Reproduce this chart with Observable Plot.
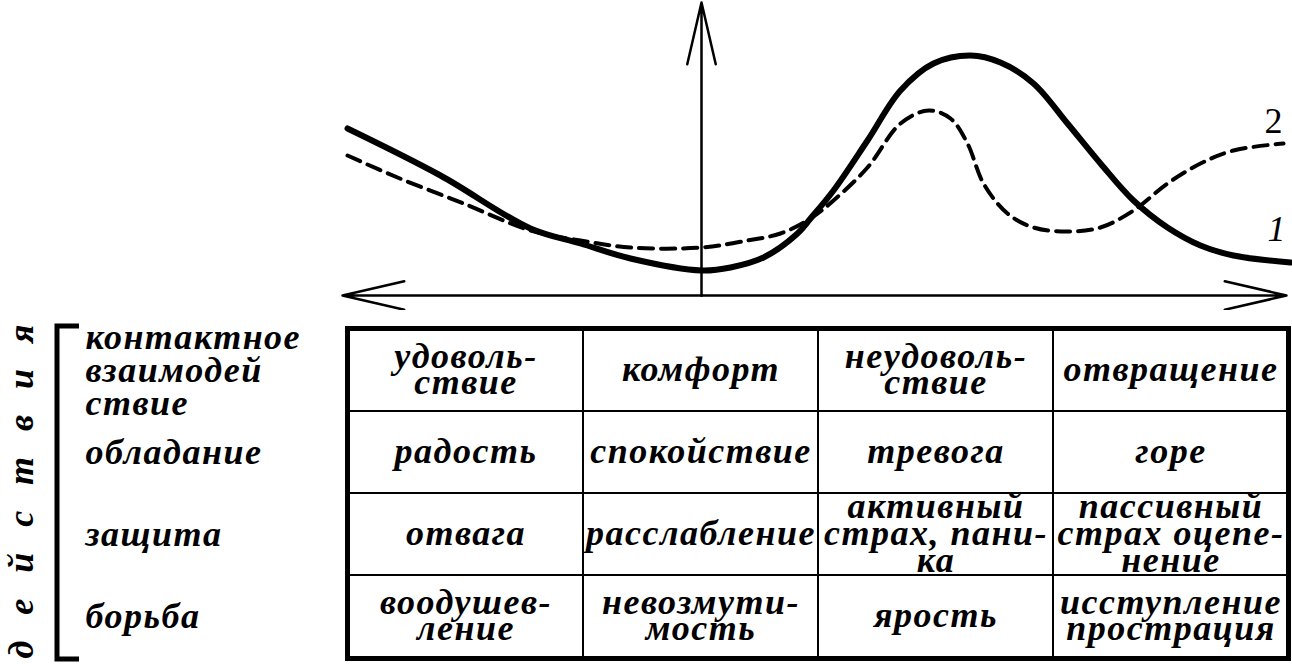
<!DOCTYPE html>
<html>
<head>
<meta charset="utf-8">
<script src="https://cdn.jsdelivr.net/npm/d3@7"></script>
<script src="https://cdn.jsdelivr.net/npm/@observablehq/plot@0.6"></script>
<style>
  body { margin: 0; background: #fff; }
  #chart { width: 1292px; }
  #chart svg { display: block; background: #fff; }
</style>
</head>
<body>
<div id="chart"></div>
<script>
// ---- Curve data (horizontal: emotion axis, origin at the vertical arrow; vertical: intensity)
const curve1X = [-3.54, -2.61, -1.71, -1.21, -0.71, 0, 0.29, 0.62, 0.96, 1.09, 1.32, 1.66, 1.99, 2.32, 2.69, 2.99, 3.32, 3.66, 3.99, 4.32, 4.66, 4.99, 5.32, 5.89];
const curve1Y = [1.67, 1.20, 0.67, 0.52, 0.37, 0.25, 0.28, 0.38, 0.62, 0.77, 1.05, 1.55, 2.05, 2.32, 2.40, 2.33, 2.12, 1.72, 1.32, 0.95, 0.68, 0.50, 0.40, 0.33];
const curve2X = [-3.54, -3.04, -2.38, -1.71, -1.21, -0.71, 0, 0.46, 0.79, 1.09, 1.32, 1.66, 1.99, 2.27, 2.49, 2.66, 2.82, 3.06, 3.32, 3.66, 3.99, 4.32, 4.66, 4.99, 5.32, 5.82];
const curve2Y = [1.40, 1.18, 0.92, 0.65, 0.55, 0.48, 0.48, 0.55, 0.62, 0.77, 0.95, 1.28, 1.72, 1.85, 1.77, 1.52, 1.12, 0.82, 0.68, 0.64, 0.68, 0.85, 1.12, 1.32, 1.45, 1.52];
const curveNames = ["1", "2"];

// axis extents (same units as the curves)
const axisLeft = -3.59, axisRight = 5.85, axisTop = 2.93;

// ---- Table data
const columns = ["I", "II", "III", "IV"];
const rowLabels = ["контактное\nвзаимодей\nствие", "обладание", "защита", "борьба"];
const contactRow = ["удоволь-\nствие", "комфорт", "неудоволь-\nствие", "отвращение"];
const possessionRow = ["радость", "спокойствие", "тревога", "горе"];
const defenseRow = ["отвага", "расслабление", "активный\nстрах, пани-\nка", "пассивный\nстрах оцепе-\nнение"];
const fightRow = ["воодушев-\nление", "невозмути-\nмость", "ярость", "исступление\nпрострация"];
const sideTitle = "действия";

// ---- build tables for the library
const curve1 = curve1X.map((x, i) => ({series: curveNames[0], x, y: curve1Y[i]}));
const curve2 = curve2X.map((x, i) => ({series: curveNames[1], x, y: curve2Y[i]}));
const axes = [
  {x1: 0, y1: 0, x2: axisLeft, y2: 0},
  {x1: 0, y1: 0, x2: axisRight, y2: 0},
  {x1: 0, y1: 0, x2: 0, y2: axisTop}
];
const cellRows = [contactRow, possessionRow, defenseRow, fightRow];
const cells = rowLabels.flatMap((row, i) => columns.map((col, j) => ({row, col, text: cellRows[i][j]})));

const serif = "'Liberation Serif', 'Times New Roman', serif";

const graphPlot = Plot.plot({
  width: 1292,
  height: 310,
  marginLeft: 342,
  marginRight: 6,
  marginTop: 0,
  marginBottom: 15,
  x: {domain: [axisLeft, axisRight], axis: null},
  y: {domain: [0, 2.95], axis: null},
  marks: [
    Plot.arrow(axes, {x1: "x1", y1: "y1", x2: "x2", y2: "y2", stroke: "black", strokeWidth: 2.5, headLength: 38, headAngle: 26}),
    Plot.line(curve2, {x: "x", y: "y", curve: "catmull-rom", stroke: "black", strokeWidth: 4, strokeDasharray: "14,8"}),
    Plot.line(curve1, {x: "x", y: "y", curve: "catmull-rom", stroke: "black", strokeWidth: 6}),
    Plot.text(curve1, Plot.selectLast({x: "x", y: "y", text: "series", dx: -14, dy: -33, fontSize: 36, fontStyle: "italic", fontFamily: serif, fill: "black"})),
    Plot.text(curve2, Plot.selectLast({x: "x", y: "y", text: "series", dx: -10, dy: -22, fontSize: 36, fontFamily: serif, fill: "black"}))
  ]
});

// bracket drawn from the table's own y scale
function bracket(index, scales, values, dims) {
  const y0 = scales.y(rowLabels[0]) - 3;
  const y1 = scales.y(rowLabels[rowLabels.length - 1]) + scales.y.bandwidth() + 2;
  const xBar = dims.marginLeft - 290;
  const xEnd = xBar + 22;
  return d3.create("svg:path")
    .attr("d", `M${xEnd},${y0}H${xBar}V${y1}H${xEnd}`)
    .attr("fill", "none")
    .attr("stroke", "black")
    .attr("stroke-width", 5)
    .node();
}

const tablePlot = Plot.plot({
  width: 1292,
  height: 354,
  marginLeft: 347,
  marginRight: 4,
  marginTop: 18,
  marginBottom: 6,
  x: {domain: columns, axis: null, padding: 0},
  y: {domain: rowLabels, axis: null, padding: 0},
  marks: [
    Plot.cell(cells, {x: "col", y: "row", fill: "white", stroke: "black", strokeWidth: 2, inset: 0}),
    Plot.frame({stroke: "black", strokeWidth: 5}),
    Plot.text(cells, {x: "col", y: "row", text: "text", dy: 2, fontSize: 36, fontWeight: "bold", fontStyle: "italic", fontFamily: serif, lineHeight: 0.74, fill: "black"}),
    Plot.text(rowLabels, {y: d => d, text: d => d, frameAnchor: "left", textAnchor: "start", dx: -262, dy: 1, fontSize: 36, fontWeight: "bold", fontStyle: "italic", fontFamily: serif, lineHeight: 0.92, fill: "black"}),
    Plot.text([sideTitle], {frameAnchor: "left", textAnchor: "middle", rotate: -90, dx: -326, dy: -2, fontSize: 36, fontWeight: "bold", fontStyle: "italic", fontFamily: serif, fill: "black"}),
    bracket
  ]
});

const tableTexts = d3.select(tablePlot).selectAll("text");
tableTexts.attr("letter-spacing", "1.5px");
tableTexts.filter(function() { return this.textContent === sideTitle; })
  .attr("letter-spacing", null)
  .attr("textLength", 334)
  .attr("lengthAdjust", "spacing");

const root = document.getElementById("chart");
root.appendChild(graphPlot);
root.appendChild(tablePlot);
</script>
</body>
</html>
